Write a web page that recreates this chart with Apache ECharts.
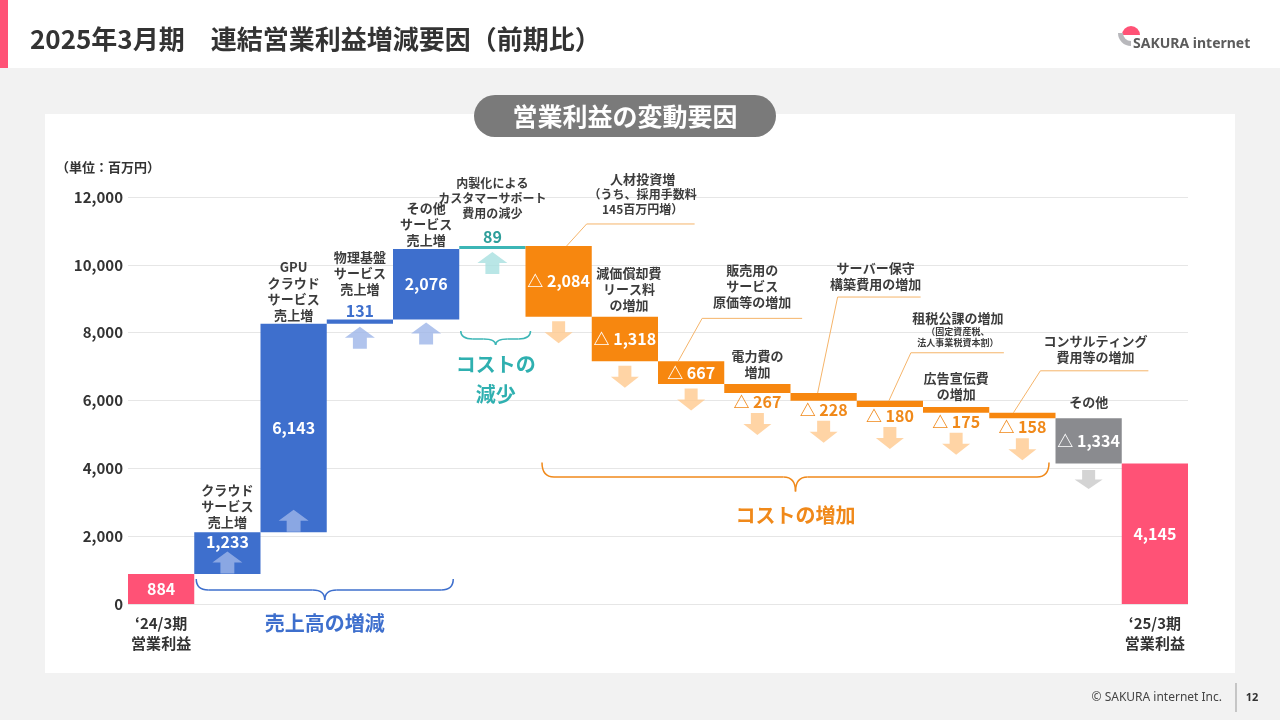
<!DOCTYPE html>
<html><head><meta charset="utf-8">
<script src="https://cdn.jsdelivr.net/npm/echarts@6/dist/echarts.min.js"></script>
<style>
html,body{margin:0;padding:0;width:1280px;height:720px;overflow:hidden;background:#f2f2f2;}
#hdr{position:absolute;left:0;top:0;width:1280px;height:68px;background:#fff;}
#pinkbar{position:absolute;left:0;top:0;width:8px;height:68px;background:#ff5276;}
#panel{position:absolute;left:45px;top:114px;width:1190px;height:559px;background:#fff;}
#chart{position:absolute;left:0;top:0;width:1280px;height:720px;}
</style></head><body>
<div id="hdr"></div><div id="pinkbar"></div><div id="panel"></div>
<div id="chart"></div>
<script>
// ---------------- DATA ----------------
const categories = [
  '‘24/3期 営業利益','クラウドサービス売上増','GPUクラウドサービス売上増','物理基盤サービス売上増',
  'その他サービス売上増','内製化によるカスタマーサポート費用の減少','人材投資増','減価償却費リース料の増加',
  '販売用のサービス原価等の増加','電力費の増加','サーバー保守構築費用の増加','租税公課の増加',
  '広告宣伝費の増加','コンサルティング費用等の増加','その他','‘25/3期 営業利益'
];
const changes = [884, 1233, 6143, 131, 2076, 89, -2084, -1318, -667, -267, -228, -180, -175, -158, -1334, 4145];
const kinds = ['total','sales','sales','sales','sales','costDown','costUp','costUp','costUp','costUp','costUp','costUp','costUp','costUp','other','total'];
const xLabels = ['‘24/3期\n営業利益','','','','','','','','','','','','','','','‘25/3期\n営業利益'];
const descriptions = [
  '',
  'クラウド\nサービス\n売上増',
  'GPU\nクラウド\nサービス\n売上増',
  '物理基盤\nサービス\n売上増',
  'その他\nサービス\n売上増',
  '内製化による\nカスタマーサポート\n費用の減少',
  '人材投資増\n（うち、採用手数料\n145百万円増）',
  '減価償却費\nリース料\nの増加',
  '販売用の\nサービス\n原価等の増加',
  '電力費の\n増加',
  'サーバー保守\n構築費用の増加',
  '租税公課の増加\n（固定資産税、\n法人事業税資本割）',
  '広告宣伝費\nの増加',
  'コンサルティング\n費用等の増加',
  'その他',
  ''
];
const braceFrom = [1, 5, 6];
const braceTo = [4, 5, 13];
const braceLabels = ['売上高の増減', 'コストの\n減少', 'コストの増加'];
const yMin = 0, yMax = 12000, yInterval = 2000;
const unitLabel = '（単位：百万円）';
const titleText = '2025年3月期　連結営業利益増減要因（前期比）';
const pillText = '営業利益の変動要因';

// ---------------- STYLE / LAYOUT ----------------
const FONT = '"Noto Sans CJK JP","Noto Sans",sans-serif';
const barColor = {total:'#ff5276', sales:'#3e6fcd', costDown:'#3cb6b6', costUp:'#f7870f', other:'#8a8b8f'};
const outLabelColor = {sales:'#3e6fcd', costDown:'#2e9e9a', costUp:'#f0891a'};
const arrowColor = {sales:'#9db5e8', costDown:'#a8e0e0', costUp:'#ffc98f', other:'#c9c9c9'};
const labelPos = ['inside','insideTop','inside','top','inside','top','inside','inside','inside','bottom','bottom','bottom','bottom','bottom','inside','inside'];
const labelDist = {1:3, 3:1, 5:2};
const arrowInside = {1:true, 2:true};
const descStyle = {
  1:{gap:2}, 2:{gap:1}, 3:{gap:22}, 4:{gap:1}, 5:{gap:25, size:12, lh:15},
  6:{sizes:[13,12,12], lh:15}, 7:{gap:4, dx:4}, 8:{}, 9:{gap:4}, 10:{},
  11:{sizes:[13,9,9], lhs:[16,11,11]}, 12:{gap:5}, 13:{}, 14:{gap:8}
};
const leaders = {
  6:{sx:8, ex:20, ey:-22, len:108, tdx:56, tgap:7},
  8:{sx:-13, ex:24, ey:-43, len:100, tdx:50, tgap:8},
  10:{sx:-6, ex:20, ey:-96, len:83, tdx:38, tgap:5},
  11:{sx:-1, ex:22, ey:-48, len:93, tdx:47, tgap:5},
  13:{sx:-9, ex:27, ey:-42, len:108, tdx:55, tgap:6}
};
const braceLayout = [
  {l:2, r:-6, top:-25, mid:11, tip:21, tgap:8, color:'#3e6fcd', text:'#3e6fcd'},
  {l:1.5, r:5, top:-273, mid:8, tip:14, tgap:4, color:'#3cb6b6', text:'#2fb0b0'},
  {l:16.5, r:-6.5, top:-141.5, mid:14.5, tip:29, tgap:9, color:'#f0891a', text:'#f0891a'}
];

// ---------------- WATERFALL ----------------
const bases = [], heights = [];
let running = 0;
changes.forEach((v, i) => {
  if (kinds[i] === 'total') { bases.push(0); heights.push(v); running = v; }
  else if (v >= 0) { bases.push(running); heights.push(v); running += v; }
  else { running += v; bases.push(running); heights.push(-v); }
});
const tops = bases.map((b, i) => b + heights[i]);
const fmt = v => (v < 0 ? '△ ' : '') + Math.abs(v).toLocaleString('en-US');

const valueData = heights.map((h, i) => {
  const pos = labelPos[i];
  const inside = pos.indexOf('inside') === 0;
  return {
    value: h,
    itemStyle: {color: barColor[kinds[i]]},
    label: {
      show: true, position: pos,
      distance: labelDist[i] !== undefined ? labelDist[i] : 2,
      color: inside ? '#ffffff' : outLabelColor[kinds[i]],
      formatter: () => fmt(changes[i])
    }
  };
});

const UP = 'path://M14,0 L28,11 L20.5,11 L20.5,22 L7.5,22 L7.5,11 L0,11 Z';
const DOWN = 'path://M7.5,0 L20.5,0 L20.5,11 L28,11 L14,22 L0,11 L7.5,11 Z';
const arrowData = [];
changes.forEach((v, i) => {
  if (kinds[i] === 'total') return;
  if (v >= 0) {
    arrowData.push({value:[i, bases[i]], symbol: UP, symbolSize:[30,22],
      symbolOffset:[0, arrowInside[i] ? -11.5 : 14], itemStyle:{color: arrowColor[kinds[i]]}});
  } else {
    const outside = labelPos[i] === 'bottom';
    const gray = kinds[i] === 'other';
    arrowData.push({value:[i, bases[i]], symbol: DOWN, symbolSize: gray ? [28,19] : [28,22],
      symbolOffset:[0, outside ? 31 : (gray ? 16 : 15.5)], itemStyle:{color: arrowColor[kinds[i]]}});
  }
});

const descData = [];
descriptions.forEach((d, i) => { if (d) descData.push([i, tops[i]]); });

function renderDesc(params, api) {
  const i = api.value(0);
  const p = api.coord([i, api.value(1)]);
  const lines = descriptions[i].split('\n');
  const st = descStyle[i] || {};
  const sizes = st.sizes || lines.map(() => st.size || 13);
  const lhs = st.lhs || lines.map(() => st.lh || 16);
  const children = [];
  let cx, bottom;
  const L = leaders[i];
  if (L) {
    const sx = p[0] + L.sx, sy = p[1];
    const ex = sx + L.ex, ey = sy + L.ey;
    children.push({type:'polyline', silent:true,
      shape:{points:[[sx, sy], [ex, ey], [ex + L.len, ey]]},
      style:{stroke:'#f5b46a', lineWidth:1, fill:null}});
    cx = ex + L.tdx; bottom = ey - L.tgap;
  } else {
    cx = p[0] + (st.dx || 0); bottom = p[1] - (st.gap || 0);
  }
  let y = bottom;
  for (let k = lines.length - 1; k >= 0; k--) {
    children.push({type:'text', silent:true, style:{
      text: lines[k], x: cx, y: y - lhs[k] / 2, align:'center', verticalAlign:'middle',
      fontSize: sizes[k], fontWeight:'bold', fontFamily: FONT, fill:'#3c3c3c'}});
    y -= lhs[k];
  }
  return {type:'group', children};
}

function renderBrace(params, api) {
  const k = params.dataIndex;
  const b = braceLayout[k];
  const a = api.coord([braceFrom[k], 0]);
  const z = api.coord([braceTo[k], 0]);
  const bw = api.size([1, 0])[0];
  const x1 = a[0] - bw / 2 + b.l, x2 = z[0] + bw / 2 + b.r;
  const tip = (x1 + x2) / 2;
  const top = a[1] + b.top, mid = top + b.mid, tipY = top + b.tip;
  const r = 12;
  const st = {stroke: b.color, lineWidth: 1.5, fill: null};
  const seg = (x1_, y1_, cx_, cy_, x2_, y2_) => ({type:'bezierCurve', silent:true,
    shape:{x1:x1_, y1:y1_, cpx1:cx_, cpy1:cy_, x2:x2_, y2:y2_}, style:st});
  const line = (x1_, y1_, x2_, y2_) => ({type:'line', silent:true, shape:{x1:x1_, y1:y1_, x2:x2_, y2:y2_}, style:st});
  return {type:'group', children:[
    seg(x1, top, x1, mid, x1 + r, mid),
    line(x1 + r, mid, tip - r, mid),
    seg(tip - r, mid, tip, mid, tip, tipY),
    seg(tip, tipY, tip, mid, tip + r, mid),
    line(tip + r, mid, x2 - r, mid),
    seg(x2 - r, mid, x2, mid, x2, top),
    {type:'text', silent:true, style:{text: braceLabels[k], x: tip, y: tipY + b.tgap,
      align:'center', verticalAlign:'top', fontSize:20, fontWeight:'bold', lineHeight:30,
      fontFamily: FONT, fill: b.text}}
  ]};
}

const chart = echarts.init(document.getElementById('chart'), null, {renderer:'canvas'});
chart.setOption({
  backgroundColor: 'transparent',
  animation: false,
  textStyle: {fontFamily: FONT},
  grid: {left:128, right:92, top:197, bottom:116, containLabel:false},
  xAxis: {
    type:'category', data: categories,
    axisLine:{show:false}, axisTick:{show:false},
    axisLabel:{interval:0, margin:9, fontSize:15, fontWeight:'bold', color:'#333', lineHeight:20,
      fontFamily: FONT, formatter:(v, i) => xLabels[i]}
  },
  yAxis: {
    type:'value', min:yMin, max:yMax, interval:yInterval,
    axisLine:{show:false}, axisTick:{show:false},
    splitLine:{lineStyle:{color:'#e6e6e6', width:1}},
    axisLabel:{margin:5, fontSize:15, fontWeight:'bold', color:'#333', fontFamily: FONT,
      formatter: v => v.toLocaleString('en-US')}
  },
  series: [
    {type:'bar', stack:'w', data: bases, itemStyle:{color:'transparent'}, silent:true, barCategoryGap:'0%'},
    {type:'bar', stack:'w', data: valueData, barCategoryGap:'0%',
      label:{fontSize:16, fontWeight:'bold', lineHeight:14, fontFamily: FONT}},
    {type:'scatter', data: arrowData, z:3, silent:true},
    {type:'custom', renderItem: renderDesc, data: descData, z:5, clip:false, silent:true},
    {type:'custom', renderItem: renderBrace, data: braceFrom.map(i => [i, 0]), z:5, clip:false, silent:true}
  ],
  graphic: [
    {type:'text', silent:true, style:{text:titleText, x:30, y:39, verticalAlign:'middle',
      fontSize:26, fontWeight:'bold', fontFamily: FONT, fill:'#333'}},
    {type:'sector', silent:true, shape:{cx:1131, cy:35, r:9, startAngle:Math.PI, endAngle:Math.PI * 2}, style:{fill:'#ff5276'}},
    {type:'sector', silent:true, shape:{cx:1131, cy:33, r0:8, r:13, startAngle:Math.PI * 0.5, endAngle:Math.PI}, style:{fill:'#b8b8bc'}},
    {type:'text', silent:true, style:{text:'SAKURA internet', x:1133, y:44, verticalAlign:'middle',
      fontSize:14, fontWeight:'bold', fontFamily:'"Noto Sans",sans-serif', fill:'#5c5c5c'}},
    {type:'rect', silent:true, shape:{x:474, y:95, width:302, height:42, r:21}, style:{fill:'#7a7a7a'}},
    {type:'text', silent:true, style:{text:pillText, x:625, y:116, align:'center', verticalAlign:'middle',
      fontSize:25, fontWeight:'bold', fontFamily: FONT, fill:'#fff'}},
    {type:'text', silent:true, style:{text:unitLabel, x:56, y:167, verticalAlign:'middle',
      fontSize:13, fontWeight:'bold', fontFamily: FONT, fill:'#333'}},
    {type:'text', silent:true, style:{text:'© SAKURA internet Inc.', x:1222, y:698, align:'right', verticalAlign:'middle',
      fontSize:12, fontFamily:'"Noto Sans",sans-serif', fill:'#444'}},
    {type:'line', silent:true, shape:{x1:1236, y1:683, x2:1236, y2:712}, style:{stroke:'#999', lineWidth:1}},
    {type:'text', silent:true, style:{text:'12', x:1252, y:698, align:'center', verticalAlign:'middle',
      fontSize:11, fontWeight:'bold', fontFamily:'"Noto Sans",sans-serif', fill:'#333'}}
  ]
});
</script>
</body></html>
